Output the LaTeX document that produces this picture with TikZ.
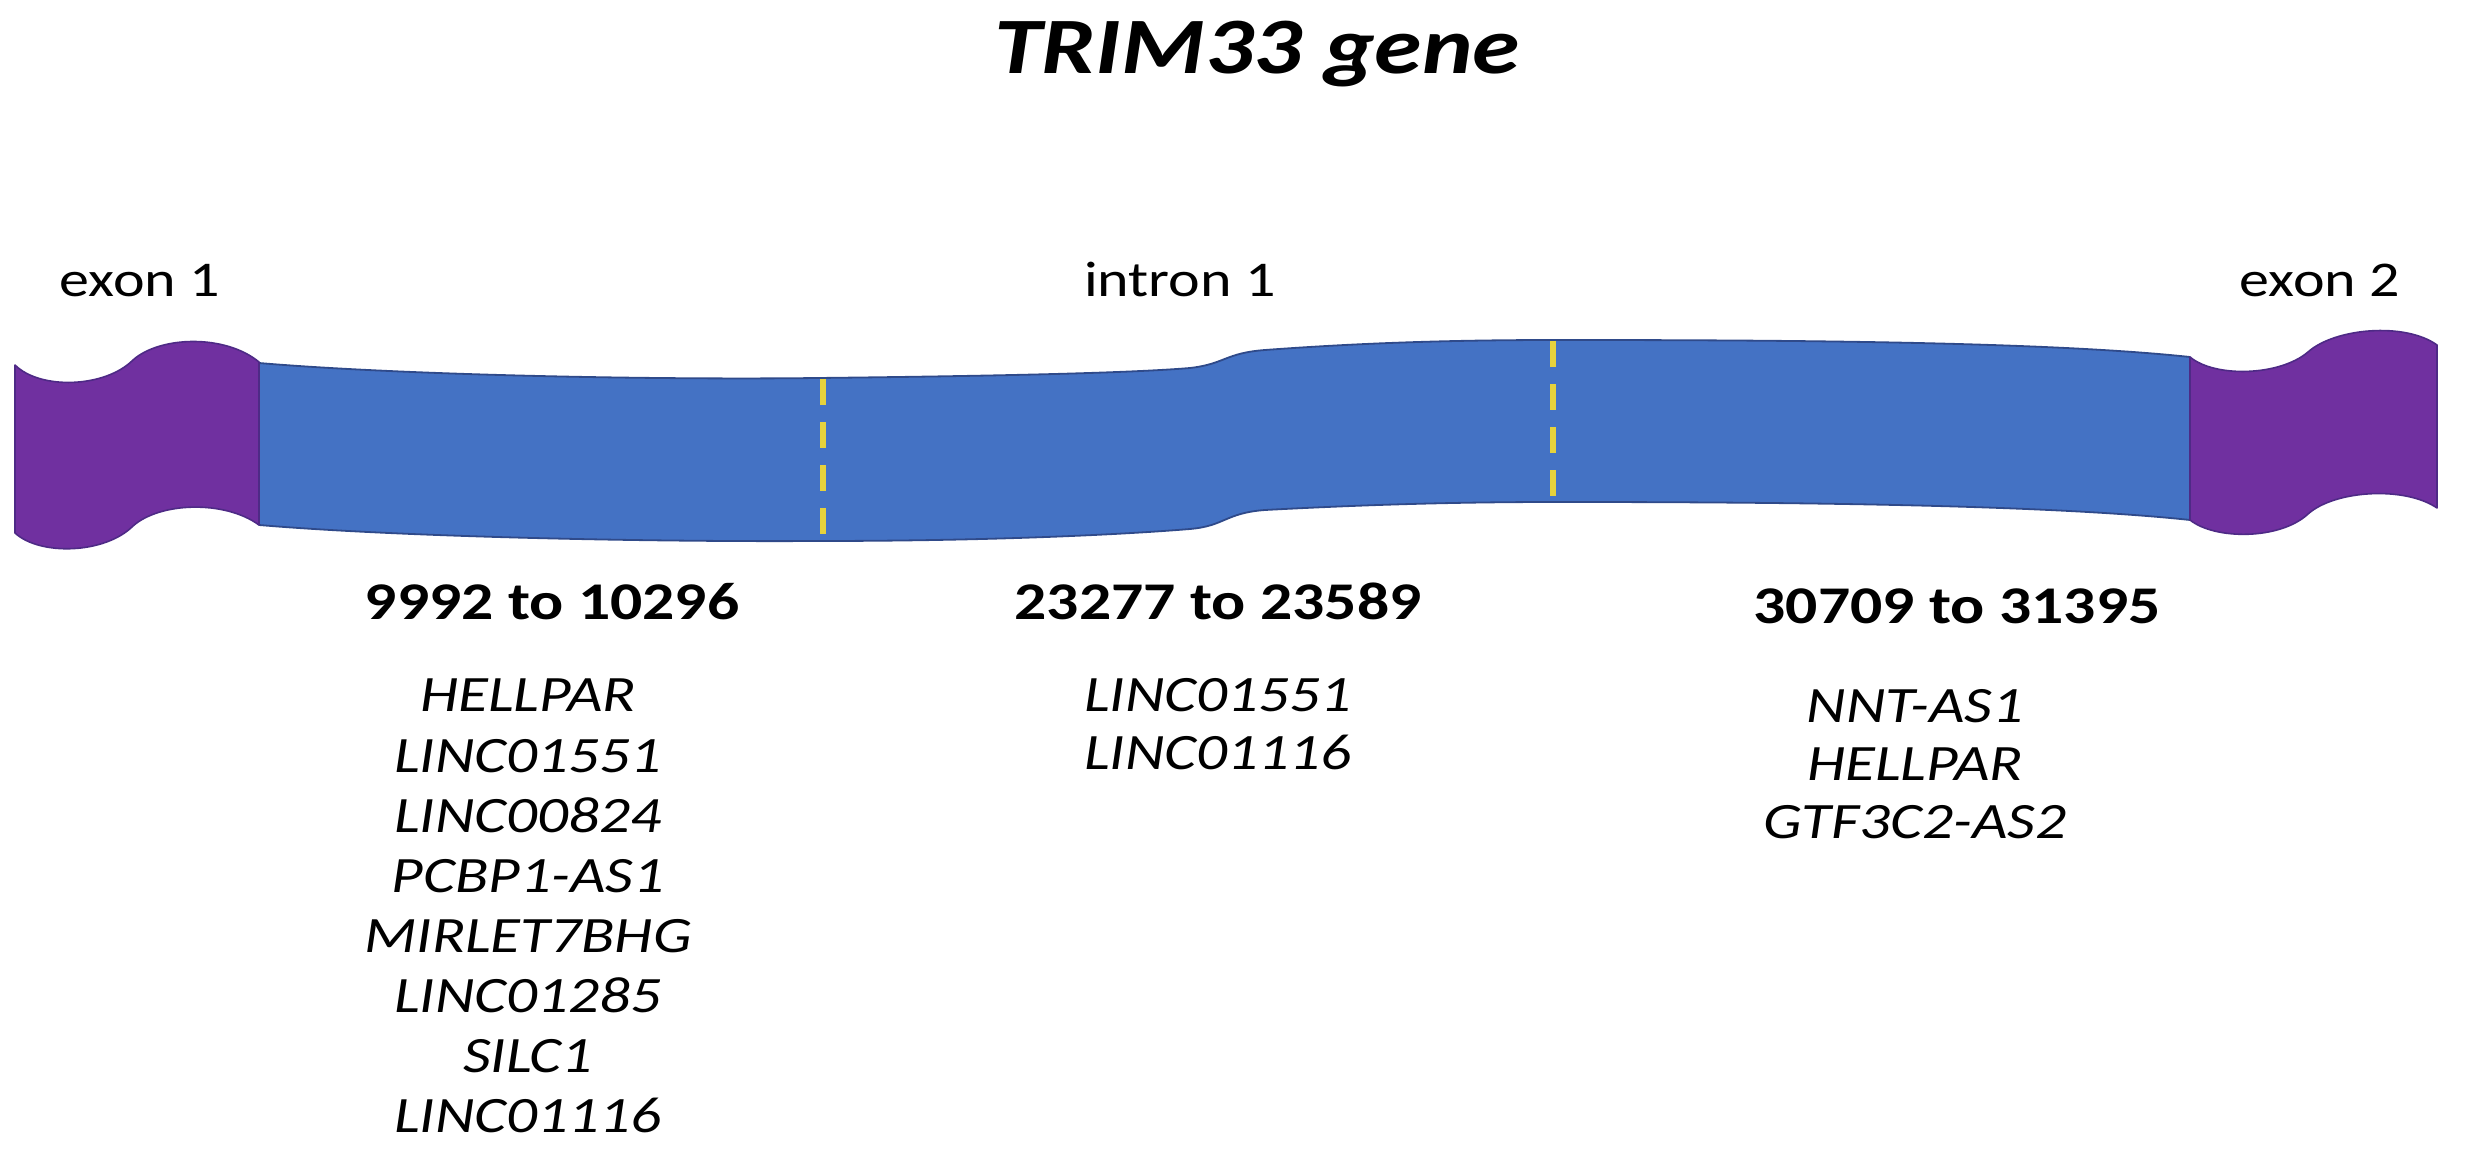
\documentclass[tikz,border=0pt]{standalone}
\usepackage{fontspec}
\newfontfamily\cf{Carlito}[FakeStretch=1.2]
\definecolor{exonpurple}{HTML}{7030A0}
\definecolor{intronblue}{HTML}{4472C4}
\definecolor{edgeblue}{HTML}{2F4A8A}
\definecolor{edgepurple}{HTML}{4E2A86}
\definecolor{dashyellow}{HTML}{E6D23C}
\tikzset{
  exonshape/.style={fill=exonpurple, draw=edgepurple, line width=0.8pt, line join=round},
  intronshape/.style={fill=intronblue, draw=edgeblue, line width=0.9pt, line join=round},
  sitemark/.style={draw=dashyellow, line width=2.6pt, dash pattern=on 13pt off 8.5pt},
  titletext/.style={anchor=base, inner sep=0pt, font=\cf\bfseries\itshape\fontsize{40}{48}\selectfont},
  parttext/.style={anchor=base, inner sep=0pt, font=\cf\fontsize{25}{30}\selectfont},
  rangetext/.style={anchor=base, inner sep=0pt, font=\cf\bfseries\fontsize{26.5}{30}\selectfont},
  genetext/.style={anchor=base, inner sep=0pt, font=\cf\itshape\fontsize{25.5}{30}\selectfont},
}
\begin{document}
\begin{tikzpicture}[x=0.5pt, y=-0.5pt]
\useasboundingbox (0,0) rectangle (2465,1154);
% intron (blue)
\path[intronshape] (259,363) .. controls (400,375) and (650,380) .. (818,378)
  .. controls (1000,376) and (1130,373) .. (1190,368)
  .. controls (1225,364) and (1225,353) .. (1265,350)
  .. controls (1360,343) and (1450,340) .. (1557,340)
  .. controls (1800,340) and (2050,342) .. (2190,357)
  -- (2190,520)
  .. controls (2050,505) and (1800,502) .. (1557,502)
  .. controls (1450,502) and (1360,505) .. (1265,510)
  .. controls (1225,513) and (1225,526) .. (1190,529)
  .. controls (1130,534) and (1000,541) .. (818,541)
  .. controls (650,542) and (400,537) .. (259,525) -- cycle;
% exon 1
\path[exonshape] (15,365) .. controls (40,390) and (105,388) .. (133,360)
  .. controls (160,336) and (225,334) .. (259,362) -- (259,525)
  .. controls (225,500) and (160,502) .. (133,526)
  .. controls (105,554) and (40,556) .. (15,533) -- cycle;
% exon 2
\path[exonshape] (2190,357) .. controls (2215,378) and (2280,376) .. (2308,352)
  .. controls (2335,328) and (2405,322) .. (2437,345) -- (2437,508)
  .. controls (2405,486) and (2335,490) .. (2308,514)
  .. controls (2280,540) and (2215,540) .. (2190,520) -- cycle;
% site markers
\coordinate (s1t) at (823,379);
\coordinate (s1b) at (823,541);
\coordinate (s2t) at (1553,341);
\coordinate (s2b) at (1553,502);
\draw[sitemark] (s1t) -- (s1b);
\draw[sitemark] (s2t) -- (s2b);
% texts
\node[titletext] (title) at (1257,74) {TRIM33 gene};
\node[parttext] (ex1) at (140,297) {exon 1};
\node[parttext] (in1) at (1180,297) {intron 1};
\node[parttext] (ex2) at (2320,297) {exon 2};
\node[rangetext] (r1) at (552,620) {9992 to 10296};
\node[rangetext] (r2) at (1218,620) {23277 to 23589};
\node[rangetext] (r3) at (1957,624) {30709 to 31395};
\foreach \g [count=\i] in {HELLPAR,LINC01551,LINC00824,PCBP1-AS1,MIRLET7BHG,LINC01285,SILC1,LINC01116}
  \node[genetext] (a\i) at (528,{712+60.1*(\i-1)}) {\g};
\foreach \g [count=\i] in {LINC01551,LINC01116}
  \node[genetext] (b\i) at (1218,{712+58*(\i-1)}) {\g};
\foreach \g [count=\i] in {NNT-AS1,HELLPAR,GTF3C2-AS2}
  \node[genetext] (c\i) at (1915,{723+58*(\i-1)}) {\g};
\end{tikzpicture}
\end{document}
